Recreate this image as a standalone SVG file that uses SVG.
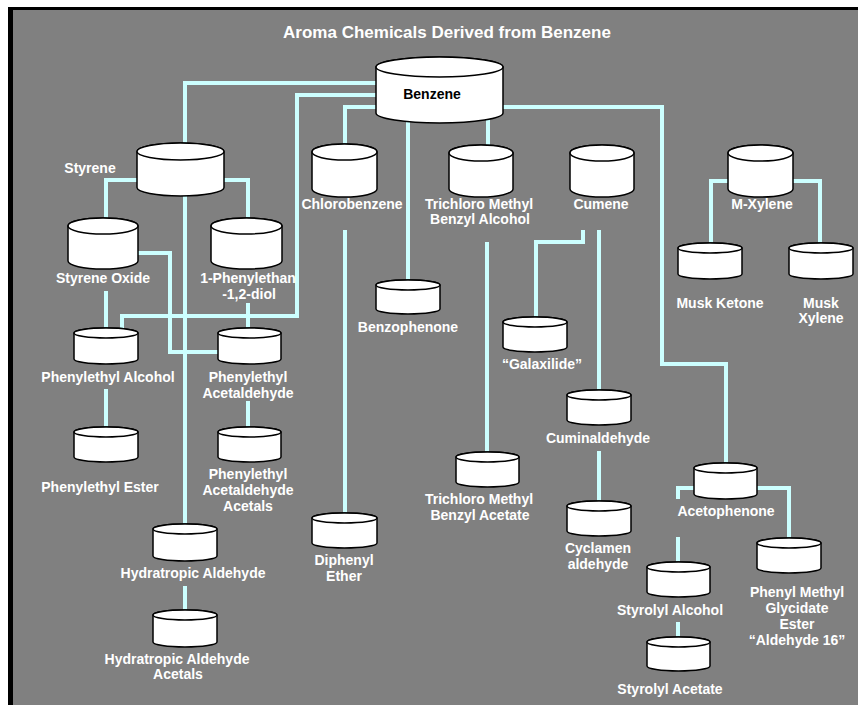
<svg xmlns="http://www.w3.org/2000/svg" width="858" height="705" viewBox="0 0 858 705">
  <style>
    .wire { fill: none; stroke: #CCFFFF; stroke-width: 4; stroke-linejoin: miter; stroke-linecap: butt; }
    .cyl { fill: #FFFFFF; stroke: #000000; stroke-width: 1.5; }
    .lbl { font-family: "Liberation Sans", Arial, sans-serif; font-weight: bold; font-size: 14px; fill: #FFFFFF; text-anchor: middle; }
    .dark { fill: #000000; }
    .title { font-family: "Liberation Sans", Arial, sans-serif; font-weight: bold; font-size: 17px; fill: #FFFFFF; text-anchor: middle; }
  </style>

  <!-- frame -->
  <rect x="0" y="0" width="858" height="705" fill="#FFFFFF"/>
  <rect x="8" y="7" width="850" height="698" fill="#000000"/>
  <rect x="13" y="10" width="845" height="695" fill="#808080"/>

  <text class="title" x="447" y="38">Aroma Chemicals Derived from Benzene</text>

  <!-- connectors -->
  <g id="connectors" class="wire">
    <path d="M378,83 H185 V145"/>
    <path d="M378,95 H297 V316 H122 V330"/>
    <path d="M378,107 H345 V146"/>
    <path d="M408,118 V282"/>
    <path d="M488,118 V147"/>
    <path d="M501,107 H662 V364 H726 V465"/>
    <path d="M139,180 H106 V220"/>
    <path d="M222,180 H248 V220"/>
    <path d="M185,194 V526"/>
    <path d="M136,253 H170 V352 H220"/>
    <path d="M106,291 V330"/>
    <path d="M248,303 V330"/>
    <path d="M106,389 V429"/>
    <path d="M248,401 V429"/>
    <path d="M185,586 V612"/>
    <path d="M345,230 V515"/>
    <path d="M487,242 V454"/>
    <path d="M583,230 V242 H536 V319"/>
    <path d="M599,230 V392"/>
    <path d="M599,451 V503"/>
    <path d="M730,181 H711 V245"/>
    <path d="M791,181 H820 V245"/>
    <path d="M755,488 H789 V540"/>
    <path d="M696,488 H678 V499"/>
    <path d="M678,537 V564"/>
    <path d="M678,622 V639"/>
  </g>

  <!-- nodes: each cylinder is a body path plus its top ellipse -->
  <g id="benzene">
    <path class="cyl" d="M376,67 V113 A63.5,10 0 0 0 503,113 V67 A63.5,10 0 0 0 376,67 Z"/>
    <ellipse class="cyl" cx="439.5" cy="67" rx="63.5" ry="10"/>
    <text class="lbl dark" x="432" y="99">Benzene</text>
  </g>

  <g id="styrene">
    <path class="cyl" d="M137,151.5 V187.5 A43.5,8.5 0 0 0 224,187.5 V151.5 A43.5,8.5 0 0 0 137,151.5 Z"/>
    <ellipse class="cyl" cx="180.5" cy="151.5" rx="43.5" ry="8.5"/>
    <text class="lbl" x="90" y="173">Styrene</text>
  </g>

  <g id="styrene-oxide">
    <path class="cyl" d="M68,226 V261 A35,8 0 0 0 138,261 V226 A35,8 0 0 0 68,226 Z"/>
    <ellipse class="cyl" cx="103" cy="226" rx="35" ry="8"/>
    <text class="lbl" x="103" y="283">Styrene Oxide</text>
  </g>

  <g id="phenylethanediol">
    <path class="cyl" d="M211,226 V261 A35.5,8 0 0 0 282,261 V226 A35.5,8 0 0 0 211,226 Z"/>
    <ellipse class="cyl" cx="246.5" cy="226" rx="35.5" ry="8"/>
    <text class="lbl" x="248" y="283">1-Phenylethan</text>
    <text class="lbl" x="249" y="299">-1,2-diol</text>
  </g>

  <g id="chlorobenzene">
    <path class="cyl" d="M312,152 V189 A32.5,8 0 0 0 377,189 V152 A32.5,8 0 0 0 312,152 Z"/>
    <ellipse class="cyl" cx="344.5" cy="152" rx="32.5" ry="8"/>
    <text class="lbl" x="352" y="209">Chlorobenzene</text>
  </g>

  <g id="trichloro-alcohol">
    <path class="cyl" d="M449,153 V189 A32,8 0 0 0 513,189 V153 A32,8 0 0 0 449,153 Z"/>
    <ellipse class="cyl" cx="481" cy="153" rx="32" ry="8"/>
    <text class="lbl" x="479" y="209">Trichloro Methyl</text>
    <text class="lbl" x="480" y="224">Benzyl Alcohol</text>
  </g>

  <g id="cumene">
    <path class="cyl" d="M570,153 V189 A32,8 0 0 0 634,189 V153 A32,8 0 0 0 570,153 Z"/>
    <ellipse class="cyl" cx="602" cy="153" rx="32" ry="8"/>
    <text class="lbl" x="601" y="209">Cumene</text>
  </g>

  <g id="m-xylene">
    <path class="cyl" d="M728,153 V189 A32.5,8 0 0 0 793,189 V153 A32.5,8 0 0 0 728,153 Z"/>
    <ellipse class="cyl" cx="760.5" cy="153" rx="32.5" ry="8"/>
    <text class="lbl" x="762" y="209">M-Xylene</text>
  </g>

  <g id="benzophenone">
    <path class="cyl" d="M376,285 V309 A32,5 0 0 0 440,309 V285 A32,5 0 0 0 376,285 Z"/>
    <ellipse class="cyl" cx="408" cy="285" rx="32" ry="5"/>
    <text class="lbl" x="408" y="332">Benzophenone</text>
  </g>

  <g id="phenylethyl-alcohol">
    <path class="cyl" d="M74,333 V359 A32,5 0 0 0 138,359 V333 A32,5 0 0 0 74,333 Z"/>
    <ellipse class="cyl" cx="106" cy="333" rx="32" ry="5"/>
    <text class="lbl" x="108" y="382">Phenylethyl Alcohol</text>
  </g>

  <g id="phenylethyl-acetaldehyde">
    <path class="cyl" d="M218,333 V359 A31.5,5 0 0 0 281,359 V333 A31.5,5 0 0 0 218,333 Z"/>
    <ellipse class="cyl" cx="249.5" cy="333" rx="31.5" ry="5"/>
    <text class="lbl" x="248" y="382">Phenylethyl</text>
    <text class="lbl" x="248" y="398">Acetaldehyde</text>
  </g>

  <g id="galaxilide">
    <path class="cyl" d="M503,322 V347 A32,5 0 0 0 567,347 V322 A32,5 0 0 0 503,322 Z"/>
    <ellipse class="cyl" cx="535" cy="322" rx="32" ry="5"/>
    <text class="lbl" x="542" y="369">“Galaxilide”</text>
  </g>

  <g id="musk-ketone">
    <path class="cyl" d="M678,248 V274 A32,5 0 0 0 742,274 V248 A32,5 0 0 0 678,248 Z"/>
    <ellipse class="cyl" cx="710" cy="248" rx="32" ry="5"/>
    <text class="lbl" x="720" y="308">Musk Ketone</text>
  </g>

  <g id="musk-xylene">
    <path class="cyl" d="M789,248 V274 A32,5 0 0 0 853,274 V248 A32,5 0 0 0 789,248 Z"/>
    <ellipse class="cyl" cx="821" cy="248" rx="32" ry="5"/>
    <text class="lbl" x="821" y="308">Musk</text>
    <text class="lbl" x="821" y="323">Xylene</text>
  </g>

  <g id="cuminaldehyde">
    <path class="cyl" d="M567,395 V420 A32,5 0 0 0 631,420 V395 A32,5 0 0 0 567,395 Z"/>
    <ellipse class="cyl" cx="599" cy="395" rx="32" ry="5"/>
    <text class="lbl" x="598" y="443">Cuminaldehyde</text>
  </g>

  <g id="phenylethyl-ester">
    <path class="cyl" d="M74,432 V457 A32,5 0 0 0 138,457 V432 A32,5 0 0 0 74,432 Z"/>
    <ellipse class="cyl" cx="106" cy="432" rx="32" ry="5"/>
    <text class="lbl" x="100" y="492">Phenylethyl Ester</text>
  </g>

  <g id="phenylethyl-acetaldehyde-acetals">
    <path class="cyl" d="M218,432 V457 A31.5,5 0 0 0 281,457 V432 A31.5,5 0 0 0 218,432 Z"/>
    <ellipse class="cyl" cx="249.5" cy="432" rx="31.5" ry="5"/>
    <text class="lbl" x="248" y="479">Phenylethyl</text>
    <text class="lbl" x="248" y="495">Acetaldehyde</text>
    <text class="lbl" x="248" y="511">Acetals</text>
  </g>

  <g id="trichloro-acetate">
    <path class="cyl" d="M456,457 V482 A31.5,5 0 0 0 519,482 V457 A31.5,5 0 0 0 456,457 Z"/>
    <ellipse class="cyl" cx="487.5" cy="457" rx="31.5" ry="5"/>
    <text class="lbl" x="479" y="504">Trichloro Methyl</text>
    <text class="lbl" x="480" y="520">Benzyl Acetate</text>
  </g>

  <g id="acetophenone">
    <path class="cyl" d="M694,468 V494 A31.5,5 0 0 0 757,494 V468 A31.5,5 0 0 0 694,468 Z"/>
    <ellipse class="cyl" cx="725.5" cy="468" rx="31.5" ry="5"/>
    <text class="lbl" x="726" y="516">Acetophenone</text>
  </g>

  <g id="cyclamen-aldehyde">
    <path class="cyl" d="M567,506 V531 A32,5 0 0 0 631,531 V506 A32,5 0 0 0 567,506 Z"/>
    <ellipse class="cyl" cx="599" cy="506" rx="32" ry="5"/>
    <text class="lbl" x="598" y="553">Cyclamen</text>
    <text class="lbl" x="598" y="569">aldehyde</text>
  </g>

  <g id="diphenyl-ether">
    <path class="cyl" d="M312,518 V543 A32.5,5 0 0 0 377,543 V518 A32.5,5 0 0 0 312,518 Z"/>
    <ellipse class="cyl" cx="344.5" cy="518" rx="32.5" ry="5"/>
    <text class="lbl" x="344" y="565">Diphenyl</text>
    <text class="lbl" x="344" y="581">Ether</text>
  </g>

  <g id="hydratropic-aldehyde">
    <path class="cyl" d="M153,529 V556 A32,5 0 0 0 217,556 V529 A32,5 0 0 0 153,529 Z"/>
    <ellipse class="cyl" cx="185" cy="529" rx="32" ry="5"/>
    <text class="lbl" x="193" y="578">Hydratropic Aldehyde</text>
  </g>

  <g id="phenyl-methyl-glycidate">
    <path class="cyl" d="M757,543 V568 A32,5 0 0 0 821,568 V543 A32,5 0 0 0 757,543 Z"/>
    <ellipse class="cyl" cx="789" cy="543" rx="32" ry="5"/>
    <text class="lbl" x="797" y="597">Phenyl Methyl</text>
    <text class="lbl" x="797" y="613">Glycidate</text>
    <text class="lbl" x="797" y="629">Ester</text>
    <text class="lbl" x="797" y="645">“Aldehyde 16”</text>
  </g>

  <g id="styrolyl-alcohol">
    <path class="cyl" d="M647,567 V592 A31.5,5 0 0 0 710,592 V567 A31.5,5 0 0 0 647,567 Z"/>
    <ellipse class="cyl" cx="678.5" cy="567" rx="31.5" ry="5"/>
    <text class="lbl" x="670" y="615">Styrolyl Alcohol</text>
  </g>

  <g id="hydratropic-acetals">
    <path class="cyl" d="M153,615 V642 A32,5 0 0 0 217,642 V615 A32,5 0 0 0 153,615 Z"/>
    <ellipse class="cyl" cx="185" cy="615" rx="32" ry="5"/>
    <text class="lbl" x="177" y="664">Hydratropic Aldehyde</text>
    <text class="lbl" x="178" y="679">Acetals</text>
  </g>

  <g id="styrolyl-acetate">
    <path class="cyl" d="M647,642 V666 A31.5,5 0 0 0 710,666 V642 A31.5,5 0 0 0 647,642 Z"/>
    <ellipse class="cyl" cx="678.5" cy="642" rx="31.5" ry="5"/>
    <text class="lbl" x="670" y="694">Styrolyl Acetate</text>
  </g>
</svg>
